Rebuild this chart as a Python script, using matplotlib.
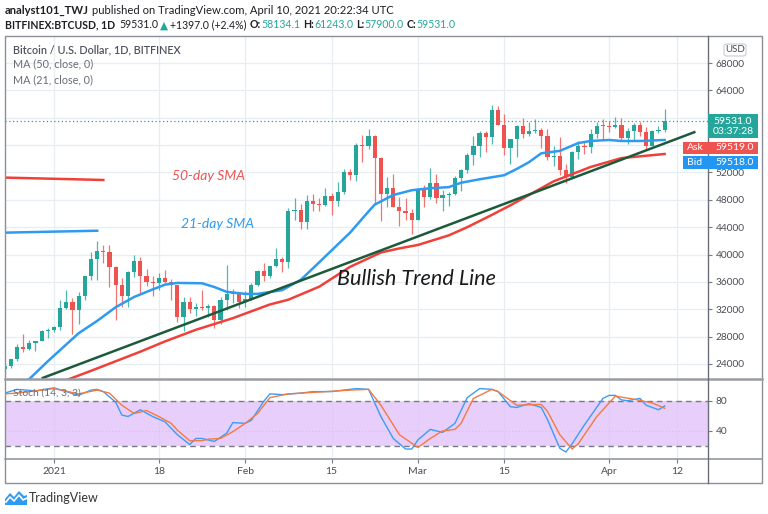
import numpy as np
import pandas as pd
import matplotlib
matplotlib.use("Agg")
import matplotlib.pyplot as plt
import matplotlib.dates as mdates
from matplotlib.lines import Line2D
from matplotlib.patches import Rectangle, FancyBboxPatch, Polygon

plt.rcParams['font.family'] = ['Lato', 'DejaVu Sans']

# daily candles BITFINEX:BTCUSD, Dec 24 2020 .. Apr 10 2021
dates = pd.date_range("2020-12-24", "2021-04-10", freq="D")
opens = [23240, 23730, 24700, 26440, 26260, 27050, 27370, 28880,
         29000, 29400, 32200, 33000, 31900, 33900, 36800, 39400, 40500, 40300, 38200, 35500, 34000, 37400, 39100, 36800,
         36000, 35800, 36600, 36000, 35500, 30800, 33000, 32100, 32400, 32250, 32500, 30400, 33400, 34250, 34350,
         33100, 33500, 35500, 37600, 36900, 38300, 39300, 38900, 46400, 46500, 44800, 47900, 47400, 47200, 48600, 47900,
         49200, 52100, 51600, 55950, 55800, 57400, 54100, 48900, 49700, 47000, 46300, 46100,
         45100, 49600, 48400, 50400, 48300, 48700, 48800, 51200, 52300, 54500, 55900, 57700, 57200, 61100, 59000, 55600,
         56900, 58800, 57600, 58050, 58150, 57300, 54200, 54400, 52300, 51300, 55000, 55900, 55700, 57600, 58800,
         58750, 58700, 58950, 57000, 58100, 59000, 57900, 55900, 58100, 58134]
highs = [23780, 24790, 26860, 28400, 27500, 27400, 29000, 29300,
         29600, 33300, 34800, 33600, 34500, 36900, 40300, 41950, 41400, 41400, 38300, 36600, 37600, 40000, 39700, 37900,
         36800, 37300, 37800, 36400, 35600, 33800, 33800, 32900, 34800, 32800, 32600, 33800, 38500, 34900, 34400,
         34700, 35900, 37700, 38700, 38300, 40900, 39700, 46800, 48200, 47400, 48700, 48900, 48200, 49700, 49000, 50600,
         52500, 52500, 56300, 57500, 58300, 57500, 54200, 51300, 51800, 48400, 48300, 46600,
         49800, 50200, 52600, 51800, 49500, 49200, 51500, 52500, 54900, 57300, 58100, 58000, 61800, 61700, 60600, 56900,
         58900, 60000, 59400, 59800, 58500, 58400, 55800, 57200, 53200, 55100, 56600, 56500, 58400, 59400, 59800,
         59500, 60100, 60000, 58500, 59200, 59400, 58600, 58200, 58800, 61243]
lows = [22700, 23450, 24500, 25800, 26100, 25860, 27330, 27850,
        28700, 28950, 32000, 28400, 29900, 33400, 36300, 36300, 38800, 35300, 30500, 32400, 32300, 36700, 34400, 35400,
        33900, 34800, 35900, 33400, 30100, 28800, 31400, 31000, 31900, 30900, 29200, 29800, 31900, 32900, 32200,
        32300, 33400, 35400, 36200, 36600, 38200, 37400, 38100, 45000, 43800, 43800, 46300, 46400, 47100, 45800, 47100,
        48900, 50900, 50800, 53500, 55500, 47600, 44900, 47000, 47000, 44200, 45000, 43000,
        45000, 47000, 48100, 47500, 46300, 47100, 48700, 49300, 51900, 53100, 54200, 55000, 56100, 59000, 54600, 53300,
        54300, 57000, 57300, 57800, 55600, 53800, 53000, 51700, 50400, 51300, 54000, 54700, 54900, 57100, 56900,
        57900, 58500, 56800, 56100, 56800, 57300, 55400, 55800, 57700, 57900]
closes = [23730, 24700, 26440, 26260, 27050, 27370, 28880, 29000,
          29400, 32200, 33000, 31900, 33900, 36800, 39400, 40500, 40300, 38200, 35500, 34000, 37400, 39100, 36800, 36000,
          35800, 36600, 36000, 35500, 30800, 33000, 32100, 32400, 32250, 32500, 30400, 33400, 34250, 34350, 33100,
          33500, 35500, 37600, 36900, 38300, 39300, 38900, 46400, 46500, 44800, 47900, 47400, 47200, 48600, 47900, 49200,
          52100, 51600, 55950, 55800, 57400, 54100, 48900, 49700, 47000, 46300, 46100, 45100,
          49600, 48400, 50400, 48300, 48700, 48800, 51200, 52300, 54500, 55900, 57700, 57200, 61100, 59000, 55600, 56900,
          58800, 57600, 58050, 58150, 57300, 54200, 54400, 52300, 51300, 55000, 55900, 55700, 57600, 58800, 58750,
          58700, 58950, 57000, 58100, 59000, 57900, 55900, 58100, 58134, 59531]

# moving averages
ma21_dates = ["2020-12-27", "2020-12-28", "2020-12-31", "2021-01-05", "2021-01-08", "2021-01-11", "2021-01-14",
              "2021-01-17", "2021-01-19", "2021-01-21", "2021-01-25", "2021-01-27", "2021-01-29", "2021-02-01",
              "2021-02-03", "2021-02-07", "2021-02-10", "2021-02-12", "2021-02-15", "2021-02-18", "2021-02-21",
              "2021-02-22", "2021-02-25", "2021-02-28", "2021-03-03", "2021-03-06", "2021-03-08", "2021-03-11",
              "2021-03-15", "2021-03-17", "2021-03-19", "2021-03-21", "2021-03-24", "2021-03-27", "2021-03-29",
              "2021-04-01", "2021-04-03", "2021-04-06", "2021-04-10"]
ma21_vals = [21300, 21800, 24400, 28500, 30300, 32300, 33800, 34900, 35600, 35850, 35800, 35250, 34550, 34250,
             34250, 34800, 36300, 38000, 40600, 43200, 46300, 47300, 48700, 49400, 49700, 49850, 50500, 51000,
             51600, 52500, 53500, 54800, 55150, 56300, 56600, 56750, 56600, 56600, 56750]
ma50_dates = ["2021-01-02", "2021-01-07", "2021-01-15", "2021-01-19", "2021-01-24", "2021-01-30", "2021-02-05",
              "2021-02-08", "2021-02-13", "2021-02-18", "2021-02-23", "2021-02-26", "2021-03-01", "2021-03-06",
              "2021-03-09", "2021-03-13", "2021-03-16", "2021-03-19", "2021-03-23", "2021-03-29", "2021-04-03",
              "2021-04-10"]
ma50_vals = [21300, 23000, 25800, 27300, 29000, 30700, 32700, 33400, 35300, 38200, 40300, 40900, 41400, 42800,
             44000, 45800, 47200, 48700, 50700, 52800, 54100, 54700]

# stochastic (14, 3, 3)
k_dates = ["2020-12-24", "2020-12-26", "2020-12-29", "2021-01-01", "2021-01-03", "2021-01-05", "2021-01-07",
           "2021-01-08", "2021-01-09", "2021-01-11", "2021-01-12", "2021-01-13", "2021-01-15", "2021-01-17",
           "2021-01-19", "2021-01-21", "2021-01-23", "2021-01-24", "2021-01-25", "2021-01-27", "2021-01-29",
           "2021-01-30", "2021-02-01", "2021-02-02", "2021-02-04", "2021-02-05", "2021-02-07", "2021-02-10",
           "2021-02-12", "2021-02-15", "2021-02-19", "2021-02-21", "2021-02-22", "2021-02-23", "2021-02-25",
           "2021-02-27", "2021-02-28", "2021-03-01", "2021-03-03", "2021-03-05", "2021-03-07", "2021-03-09",
           "2021-03-11", "2021-03-13", "2021-03-14", "2021-03-16", "2021-03-17", "2021-03-19", "2021-03-21",
           "2021-03-22", "2021-03-24", "2021-03-25", "2021-03-26", "2021-03-28", "2021-03-31", "2021-04-01",
           "2021-04-02", "2021-04-03", "2021-04-04", "2021-04-06", "2021-04-07", "2021-04-09", "2021-04-10"]
k_vals = [90, 95, 93, 97, 92, 87, 94, 95, 92, 78, 61, 59, 68, 59, 52, 35, 22, 30, 30, 26, 37, 51, 50, 54, 79, 89,
          88, 90, 92, 92, 96, 95, 77, 59, 30, 16, 16, 28, 42, 38, 50, 84, 96, 95, 92, 72, 71, 76, 71, 55, 17, 12,
          23, 48, 83, 87, 87, 81, 80, 83, 74, 68, 73]
d_dates = ["2020-12-24", "2020-12-26", "2021-01-01", "2021-01-05", "2021-01-08", "2021-01-10", "2021-01-12",
           "2021-01-14", "2021-01-16", "2021-01-18", "2021-01-20", "2021-01-21", "2021-01-23", "2021-01-25",
           "2021-01-26", "2021-01-28", "2021-01-30", "2021-02-01", "2021-02-03", "2021-02-05", "2021-02-08",
           "2021-02-12", "2021-02-18", "2021-02-21", "2021-02-23", "2021-02-26", "2021-03-01", "2021-03-03",
           "2021-03-05", "2021-03-07", "2021-03-08", "2021-03-10", "2021-03-13", "2021-03-14", "2021-03-17",
           "2021-03-21", "2021-03-22", "2021-03-24", "2021-03-26", "2021-03-27", "2021-03-30", "2021-04-02",
           "2021-04-05", "2021-04-08", "2021-04-10"]
d_vals = [89, 90, 96, 89, 94, 90, 74, 63, 67, 59, 50, 41, 27, 27, 29, 30, 39, 50, 63, 84, 89, 91, 94, 95, 74, 35,
          18, 30, 40, 42, 50, 83, 95, 92, 74, 75, 66, 35, 16, 23, 59, 86, 82, 77, 70]

tick_dates = ["2021-01-01", "2021-01-18", "2021-02-01", "2021-02-15", "2021-03-01", "2021-03-15", "2021-04-01", "2021-04-12"]
tick_labels = ["2021", "18", "Feb", "15", "Mar", "15", "Apr", "12"]
price_ticks = [24000, 28000, 32000, 36000, 40000, 44000, 48000, 52000, 56000, 60000, 64000, 68000]
hidden_price_ticks = [56000, 60000]   # covered by the price labels on the chart

last_price = 59531.0
ask_price = 59519.0
bid_price = 59518.0

# analyst drawings
trend_pts = (("2020-12-30", 21900), ("2021-04-15", 57950))
red_mark = (("2020-12-24", 51250), ("2021-01-09", 50900))
blue_mark = (("2020-12-24", 43200), ("2021-01-08", 43480))

UP, DOWN = "#26a69a", "#ef5350"
GRID = "#e7edf1"
TXT = "#4a4c55"


def fx(px):
    return px / 768


def fy(py):
    return 1 - py / 514


def dn(s):
    return mdates.date2num(pd.Timestamp(s))


fig = plt.figure(figsize=(7.68, 5.14), dpi=100)
fig.patch.set_facecolor("white")

ax = fig.add_axes([fx(5), fy(379), fx(708) - fx(5), fy(36) - fy(379)])
ax2 = fig.add_axes([fx(5), fy(459), fx(708) - fx(5), fy(379) - fy(459)])

x0 = dn("2021-01-01")
xlim = (x0 - 7.94, x0 + 106.03)

# ---- main pane ----
xd = mdates.date2num(dates)
o = np.array(opens, float)
c = np.array(closes, float)
col = [UP if cc >= oo else DOWN for oo, cc in zip(o, c)]
ax.vlines(xd, lows, highs, colors=col, lw=0.9, alpha=0.8, zorder=3)
body_lo = np.minimum(o, c)
body_h = np.maximum(np.abs(c - o), 150)
ax.bar(xd, body_h, bottom=body_lo, width=0.68, color=col, lw=0, zorder=4)

ax.plot([dn(d) for d in ma21_dates], ma21_vals, color="#2e9bf0", lw=1.8, zorder=5)
ax.plot([dn(d) for d in ma50_dates], ma50_vals, color="#f0403a", lw=1.8, zorder=5)

(t1, p1), (t2, p2) = trend_pts
ax.plot([dn(t1), dn(t2)], [p1, p2], color="#1c5a3c", lw=1.8, zorder=6, solid_capstyle="butt")
(a1, v1), (a2, v2) = red_mark
ax.plot([dn(a1), dn(a2)], [v1, v2], color="#f0403a", lw=1.8, zorder=6)
(a1, v1), (a2, v2) = blue_mark
ax.plot([dn(a1), dn(a2)], [v1, v2], color="#2e9bf0", lw=1.8, zorder=6)

ax.axhline(last_price, color=UP, lw=0.9, ls=(0, (1, 2)), zorder=2)

ax.set_xlim(*xlim)
ax.set_ylim(21807, 71947)
ax.set_xticks([dn(d) for d in tick_dates])
ax.tick_params(axis="x", length=0, labelbottom=False)
ax.set_yticks(price_ticks)
ax.set_yticklabels(["" if p in hidden_price_ticks else str(p) for p in price_ticks])
ax.yaxis.tick_right()
ax.tick_params(axis="y", direction="out", length=3, width=0.8, color="#787b86",
               pad=2.5, labelsize=7.3, labelcolor=TXT)
ax.grid(True, color=GRID, lw=0.9)
ax.set_axisbelow(True)
for s in ax.spines.values():
    s.set_visible(False)

fig.text(fx(172), fy(176), "50-day SMA", color="#ef5350", fontsize=10, style="italic", va="center")
fig.text(fx(181), fy(224), "21-day SMA", color="#2e9bf0", fontsize=10, style="italic", va="center")
fig.text(fx(337), fy(279), "Bullish Trend Line", color="#1a1a1a", fontsize=15.6, style="italic", va="center")

fig.text(fx(13), fy(50), "Bitcoin / U.S. Dollar, 1D, BITFINEX", color="#50535e", fontsize=7.8,
         fontweight="semibold", va="center")
fig.text(fx(13), fy(64), "MA (50, close, 0)", color="#6a6d78", fontsize=7.8, va="center")
fig.text(fx(13), fy(80), "MA (21, close, 0)", color="#6a6d78", fontsize=7.8, va="center")

# ---- stochastic pane ----
ax2.axhspan(20, 80, color="#e3c6fb", alpha=0.85, lw=0, zorder=1)
ax2.axhline(80, color="#787b86", lw=1, ls=(0, (4, 3)), zorder=2)
ax2.axhline(20, color="#787b86", lw=1, ls=(0, (4, 3)), zorder=2)
ax2.axhline(40, color="#d4c2ea", lw=0.8, ls=(0, (1, 2)), zorder=2)
ax2.plot([dn(d) for d in k_dates], k_vals, color="#3d9cf5", lw=1.0, zorder=4)
ax2.plot([dn(d) for d in d_dates], d_vals, color="#f47a40", lw=1.0, zorder=4)
ax2.set_xlim(*xlim)
ax2.set_ylim(2.78, 108.7)
ax2.set_xticks([dn(d) for d in tick_dates])
ax2.set_xticklabels(tick_labels)
ax2.tick_params(axis="x", direction="out", length=3, width=0.8, color="#787b86",
                pad=2.5, labelsize=7.5, labelcolor=TXT)
ax2.set_yticks([40, 80])
ax2.yaxis.tick_right()
ax2.tick_params(axis="y", direction="out", length=3, width=0.8, color="#787b86",
                pad=2.5, labelsize=7.3, labelcolor=TXT)
ax2.grid(True, axis="x", color=GRID, lw=0.9)
ax2.set_axisbelow(True)
for s in ax2.spines.values():
    s.set_visible(False)
fig.text(fx(13), fy(393), "Stoch (14, 3, 3)", color="#6a6d78", fontsize=7.5, va="center")

# ---- frame ----
fig.add_artist(Rectangle((fx(5), fy(483)), fx(762) - fx(5), fy(36) - fy(483), fill=False,
                         ec="#8c8f98", lw=1, transform=fig.transFigure))
fig.add_artist(Line2D([fx(5), fx(762)], [fy(379), fy(379)], color="#9a9ca3", lw=1.8, transform=fig.transFigure))
fig.add_artist(Line2D([fx(5), fx(762)], [fy(459), fy(459)], color="#8c8f98", lw=1.1, transform=fig.transFigure))
fig.add_artist(Line2D([fx(708), fx(708)], [fy(36), fy(483)], color="#6b6e78", lw=1, transform=fig.transFigure))


def box(x0p, y0p, x1p, y1p, color):
    fig.add_artist(Rectangle((fx(x0p), fy(y1p)), fx(x1p) - fx(x0p), fy(y0p) - fy(y1p),
                             fc=color, ec="none", transform=fig.transFigure, zorder=10))


box(708, 114, 758, 138, UP)
fig.text(fx(733), fy(121), f"{last_price:.1f}", color="white", fontsize=7.5, ha="center", va="center", zorder=11)
fig.text(fx(733), fy(132), "03:37:28", color="white", fontsize=7.5, ha="center", va="center", zorder=11)
box(683, 142, 758, 154, DOWN)
fig.text(fx(695), fy(148), "Ask", color="white", fontsize=7.5, ha="center", va="center", zorder=11)
fig.text(fx(735), fy(148), f"{ask_price:.1f}", color="white", fontsize=7.5, ha="center", va="center", zorder=11)
box(683, 156, 758, 169, "#2196f3")
fig.text(fx(695), fy(162.5), "Bid", color="white", fontsize=7.5, ha="center", va="center", zorder=11)
fig.text(fx(735), fy(162.5), f"{bid_price:.1f}", color="white", fontsize=7.5, ha="center", va="center", zorder=11)

fig.add_artist(FancyBboxPatch((fx(724), fy(56)), fx(746) - fx(724), fy(44) - fy(56),
                              boxstyle="round,pad=0,rounding_size=0.004", fc="white", ec="#c9cbd1",
                              lw=0.8, transform=fig.transFigure, zorder=10))
fig.text(fx(735), fy(50), "USD", color=TXT, fontsize=7, ha="center", va="center", zorder=11)

# ---- header ----
renderer = fig.canvas.get_renderer()


def run_text(x, y, parts, size):
    for s, color, weight, gap in parts:
        t = fig.text(fx(x), fy(y), s, fontsize=size, color=color, fontweight=weight, va="center", ha="left")
        x += t.get_window_extent(renderer).width + gap


DARK = "#1e1f24"
TEAL = "#26a69a"
run_text(5, 10, [("analyst101_TWJ", DARK, "bold", 3),
                 ("published on TradingView.com, April 10, 2021 20:22:34 UTC", DARK, "normal", 0)], 8.1)
run_text(5, 25, [("BITFINEX:BTCUSD, 1D", DARK, "bold", 4),
                 (f"{last_price:.1f}", DARK, "normal", 2),
                 ("\u25b2", TEAL, "normal", 2),
                 ("+1397.0 (+2.4%)", DARK, "normal", 3),
                 ("O:", DARK, "bold", 0), ("58134.1", TEAL, "normal", 3),
                 ("H:", DARK, "bold", 0), ("61243.0", TEAL, "normal", 3),
                 ("L:", DARK, "bold", 0), ("57900.0", TEAL, "normal", 3),
                 ("C:", DARK, "bold", 0), (f"{last_price:.1f}", TEAL, "normal", 0)], 7.6)

# ---- logo ----
fig.add_artist(Polygon([(fx(5), fy(505)), (fx(5), fy(499)), (fx(10), fy(493)), (fx(14), fy(497)),
                        (fx(19), fy(491)), (fx(24), fy(496)), (fx(27), fy(495)), (fx(27), fy(505))],
                       closed=True, fc="#2e9bf0", ec="none", transform=fig.transFigure))
fig.add_artist(Line2D([fx(6), fx(10), fx(14), fx(19), fx(23), fx(27)],
                      [fy(502), fy(497), fy(501), fy(495), fy(500), fy(498)],
                      color="white", lw=1.2, transform=fig.transFigure))
fig.text(fx(29), fy(498), "TradingView", color="#333333", fontsize=9, va="center")

fig.savefig("out.png", dpi=100)
